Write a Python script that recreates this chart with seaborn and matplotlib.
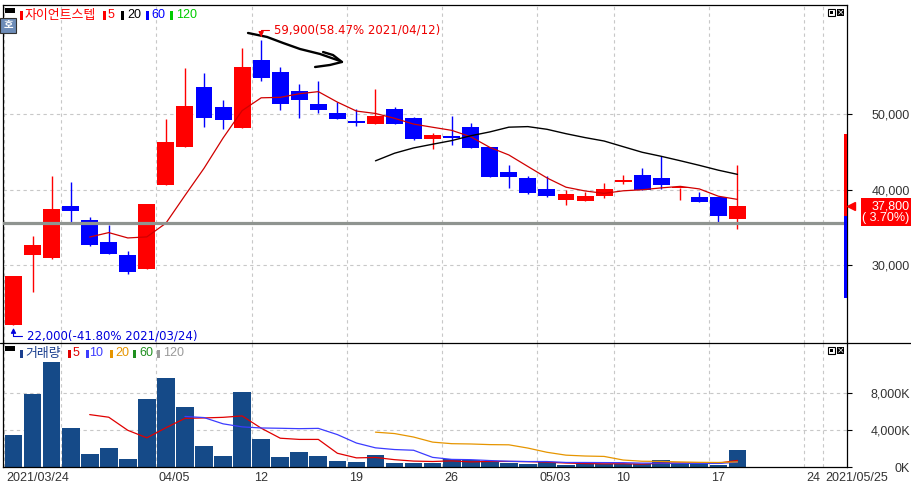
import numpy as np
import pandas as pd
import matplotlib
matplotlib.use("Agg")
import matplotlib.pyplot as plt
import matplotlib.transforms as mtransforms
from matplotlib.patches import Rectangle
from matplotlib.lines import Line2D
import seaborn as sns

# ---------------- data ----------------
dates = ['2021/03/24', '2021/03/25', '2021/03/26', '2021/03/29', '2021/03/30', '2021/03/31',
         '2021/04/01', '2021/04/02', '2021/04/05', '2021/04/06', '2021/04/07', '2021/04/08',
         '2021/04/09', '2021/04/12', '2021/04/13', '2021/04/14', '2021/04/15', '2021/04/16',
         '2021/04/19', '2021/04/20', '2021/04/21', '2021/04/22', '2021/04/23', '2021/04/26',
         '2021/04/27', '2021/04/28', '2021/04/29', '2021/04/30', '2021/05/03', '2021/05/04',
         '2021/05/06', '2021/05/07', '2021/05/10', '2021/05/11', '2021/05/12', '2021/05/13',
         '2021/05/14', '2021/05/17', '2021/05/18']
opens = [22000, 31350, 30950, 37800, 35950, 33050, 31300, 29500, 40650, 45700, 53600, 50950,
         48200, 57200, 55600, 53100, 51400, 50200, 48900, 48750, 50700, 49500, 46750, 46900,
         48300, 45650, 42350, 41550, 40100, 38650, 38500, 39200, 40950, 41900, 41550, 40150,
         39000, 39000, 36150]
highs = [28550, 33850, 41800, 41000, 36350, 35300, 31850, 38100, 49350, 56150, 55500, 51950,
         58850, 59900, 56300, 54000, 54400, 51650, 50650, 53350, 50950, 49600, 47550, 49800,
         48900, 45650, 43250, 41750, 41750, 39900, 39700, 40850, 41950, 42850, 44400, 40200,
         39700, 39000, 43250]
lows = [22000, 26450, 30750, 35750, 32500, 31450, 28800, 29500, 40650, 45700, 48350, 48100,
        48200, 54450, 50550, 49550, 50200, 49350, 48500, 48750, 48750, 46600, 45450, 45950,
        45550, 41700, 40250, 39450, 39000, 37950, 38500, 38900, 40700, 39900, 40100, 38600,
        38350, 35750, 34800]
closes = [28550, 32650, 37400, 37200, 32700, 31500, 29100, 38100, 46300, 51100, 49550, 49200,
          56300, 54800, 51400, 51950, 50600, 49350, 48850, 49800, 48750, 46750, 47250, 46800,
          45550, 41700, 41700, 39600, 39200, 39400, 39200, 40100, 41300, 39900, 40650, 40200,
          38400, 36450, 37800]
volumes_k = [3455, 7956, 11444, 4218, 1384, 2038, 839, 7379, 9668, 6507, 2256, 1166, 8142,
             3019, 1057, 1602, 1166, 621, 512, 1275, 403, 400, 400, 840, 730, 655, 400, 290,
             545, 260, 370, 290, 330, 330, 730, 475, 290, 260, 1820]

prev_close = 36450
upper_limit = 47350
lower_limit = 25550
ref_line_price = 35550

price_ticks = [30000, 40000, 50000]
volume_ticks = [0, 4000, 8000]
week_start_idx = [0, 3, 8, 13, 18, 23, 28, 32, 37, 42, 43]
xtick_idx = [0, 8, 13, 18, 23, 28, 32, 37, 42, 43]
xtick_labels = ['2021/03/24', '04/05', '12', '19', '26', '05/03', '10', '17', '24', '2021/05/25']

# hand-drawn pen stroke (slot index, price)
pen_x = [12.31, 13.31, 14.15, 15.04, 16.09, 17.14]
pen_y = [60800, 60270, 59470, 58670, 58010, 57080]
pen_head1_x = [16.25, 16.77, 17.24]
pen_head1_y = [58270, 57870, 56950]
pen_head2_x = [15.83, 16.61, 17.24]
pen_head2_y = [56280, 56550, 56950]

# ---------------- styling ----------------
sns.set_style("white")
plt.rcParams['font.family'] = ['Liberation Sans', 'Noto Sans CJK KR', 'DejaVu Sans']
plt.rcParams['axes.unicode_minus'] = False

RED = '#ff0000'
BLUE = '#0000ff'
NAVY = '#154a88'
GRID = '#c8c8c8'
KR = ['Noto Sans CJK KR', 'DejaVu Sans']

W, H = 911, 484
fig = plt.figure(figsize=(W / 100, H / 100), dpi=100)
fig.patch.set_facecolor('white')


def fx(px):
    return px / W


def fy(py):
    return 1 - py / H


ax = fig.add_axes([fx(3), fy(343), (847 - 3) / W, (343 - 5) / H])
ax2 = fig.add_axes([fx(3), fy(467), (847 - 3) / W, (467 - 343) / H])

XLIM = (-0.551, 43.75)
PRICE_YLIM = (19629, 64515)
VOL_YLIM = (0, 13470)

df = pd.DataFrame({'idx': np.arange(len(dates)), 'date': dates, 'open': opens, 'high': highs,
                   'low': lows, 'close': closes, 'vol': volumes_k})
df['ma5'] = df['close'].rolling(5).mean()
df['ma20'] = df['close'].rolling(20).mean()
df['vma5'] = df['vol'].rolling(5).mean()
df['vma10'] = df['vol'].rolling(10).mean()
df['vma20'] = df['vol'].rolling(20).mean()

for a in (ax, ax2):
    a.set_facecolor('white')
    a.set_xlim(*XLIM)
    for i in week_start_idx:
        a.axvline(i - 0.5, color=GRID, lw=0.8, ls=(0, (3, 3)), zorder=0)
    for s in a.spines.values():
        s.set_color('black')
        s.set_linewidth(0.9)
ax.spines['bottom'].set_visible(False)
ax2.spines['top'].set_visible(False)

ax.set_ylim(*PRICE_YLIM)
ax2.set_ylim(*VOL_YLIM)
for p in price_ticks:
    ax.axhline(p, color=GRID, lw=0.8, ls=(0, (3, 3)), zorder=0)
for v in volume_ticks[1:]:
    ax2.axhline(v, color=GRID, lw=0.8, ls=(0, (3, 3)), zorder=0)

# ---------------- candles ----------------
up = df['close'] >= df['open']
colors = np.where(up, RED, BLUE)
ax.vlines(df['idx'], df['low'], df['high'], colors=colors, lw=1.0, zorder=2)
body_bottom = np.minimum(df['open'], df['close'])
body_h = np.maximum((df['close'] - df['open']).abs(), 260)
ax.bar(df['idx'], body_h, bottom=body_bottom, width=0.89, color=colors, lw=0, zorder=3)

ax.axhline(ref_line_price, color='#8f9490', lw=2.3, zorder=6)

sns.lineplot(data=df, x='idx', y='ma5', ax=ax, color='#d00000', lw=0.9, zorder=5, legend=False)
sns.lineplot(data=df, x='idx', y='ma20', ax=ax, color='black', lw=1.0, zorder=5, legend=False)

# pen stroke
ax.plot(pen_x, pen_y, color='black', lw=1.7, solid_capstyle='round', zorder=8)
ax.plot(pen_head1_x, pen_head1_y, color='black', lw=1.7, solid_capstyle='round', zorder=8)
ax.plot(pen_head2_x, pen_head2_y, color='black', lw=1.7, solid_capstyle='round', zorder=8)

# high / low annotations
last = closes[-1]
hi_i = int(np.argmax(highs))
lo_i = int(np.argmin(lows))
hi, lo = highs[hi_i], lows[lo_i]
hi_txt = f"{hi:,}({(hi - last) / last * 100:.2f}% {dates[hi_i]})"
lo_txt = f"{lo:,}({(lo - last) / last * 100:.2f}% {dates[lo_i]})"
ax.annotate(hi_txt, xy=(hi_i, hi), xytext=(12.5, 10), textcoords='offset pixels',
            ha='left', va='center', color='#ee0000', fontsize=8.5, family=['DejaVu Sans'],
            zorder=9,
            arrowprops=dict(arrowstyle='-|>,head_length=0.35,head_width=0.18', color='#ee0000',
                            lw=0.8, connectionstyle='angle,angleA=0,angleB=90,rad=0',
                            relpos=(0, 0.5), shrinkA=1, shrinkB=2))
ax.annotate(lo_txt, xy=(lo_i, lo), xytext=(13.5, -10.6), textcoords='offset pixels',
            ha='left', va='center', color='#0000dd', fontsize=8.5, family=['DejaVu Sans'],
            zorder=9,
            arrowprops=dict(arrowstyle='-|>,head_length=0.35,head_width=0.18', color='#0000dd',
                            lw=0.8, connectionstyle='angle,angleA=0,angleB=90,rad=0',
                            relpos=(0, 0.5), shrinkA=1, shrinkB=2))

# right-side limit bar & current price marker
bt = mtransforms.blended_transform_factory(ax.transAxes, ax.transData)
ax.add_patch(Rectangle((0.99645, prev_close), 0.0036, upper_limit - prev_close,
                       transform=bt, color=RED, lw=0, clip_on=False, zorder=7))
ax.add_patch(Rectangle((0.99645, lower_limit), 0.0036, prev_close - lower_limit,
                       transform=bt, color=BLUE, lw=0, clip_on=False, zorder=7))
ax.plot([1.0047], [last], marker='<', ms=6, color=RED, transform=bt, clip_on=False, zorder=8)
ppx = (PRICE_YLIM[1] - PRICE_YLIM[0]) / 338.0
ax.add_patch(Rectangle((1.0166, last - 20 * ppx), 0.0596, 28 * ppx, transform=bt,
                       color=RED, lw=0, clip_on=False, zorder=7))
pct = (last - prev_close) / prev_close * 100
ax.text(1.074, last, f"{last:,}", transform=bt, ha='right', va='center', color='white',
        fontsize=9, zorder=8)
ax.text(1.074, last - 12 * ppx, f"({pct:5.2f}%)", transform=bt, ha='right', va='center',
        color='white', fontsize=9, zorder=8)

# price axis
ax.set_xticks([])
ax.set_xlabel('')
ax.set_ylabel('')
ax.yaxis.tick_right()
ax.set_yticks(price_ticks)
ax.set_yticklabels([f"{p:,}" for p in price_ticks])
ax.tick_params(axis='y', direction='out', length=3.6, width=0.8, pad=41.8, labelsize=9,
               labelcolor='#333333', color='black')
for t in ax.get_yticklabels():
    t.set_ha('right')

# ---------------- volume ----------------
ax2.bar(df['idx'], df['vol'], width=0.93, color=NAVY, lw=0, zorder=2)
sns.lineplot(data=df, x='idx', y='vma5', ax=ax2, color='#e00000', lw=0.9, zorder=4, legend=False)
sns.lineplot(data=df, x='idx', y='vma10', ax=ax2, color='#3c3cff', lw=0.9, zorder=4, legend=False)
sns.lineplot(data=df, x='idx', y='vma20', ax=ax2, color='#e69500', lw=0.9, zorder=4, legend=False)
ax2.set_xlabel('')
ax2.set_ylabel('')
ax2.yaxis.tick_right()
ax2.set_yticks(volume_ticks)
ax2.set_yticklabels([f"{v:,}K" for v in volume_ticks])
ax2.tick_params(axis='y', direction='out', length=3.6, width=0.8, pad=41.8, labelsize=9,
                labelcolor='#333333', color='black')
for t in ax2.get_yticklabels():
    t.set_ha('right')
ax2.set_xticks([i - 0.5 for i in xtick_idx])
ax2.set_xticklabels([])
ax2.tick_params(axis='x', direction='out', length=5, width=0.8, color='black')
xt = mtransforms.blended_transform_factory(ax2.transData, ax2.transAxes)
xt_off = mtransforms.offset_copy(xt, fig=fig, x=1.5, y=-3.3, units='points')
for i, lab in zip(xtick_idx, xtick_labels):
    ax2.text(i - 0.5, 0, lab, transform=xt_off, ha='left', va='top', fontsize=9,
             color='#333333', clip_on=False)

# separator line
fig.add_artist(Line2D([0, 1], [fy(343), fy(343)], transform=fig.transFigure, color='black',
                      lw=0.9))


# ---------------- legends & decorations ----------------
def frect(x0, y0, w, h, **kw):
    fig.add_artist(Rectangle((fx(x0), fy(y0 + h)), w / W, h / H, transform=fig.transFigure, **kw))


def ftext(x, y, s, **kw):
    fig.text(fx(x), fy(y), s, ha='left', va='center', **kw)


# price legend
frect(5, 8, 10, 5, color='black', lw=0)
legend_price = [(19.5, 25, '자이언트스텝', RED, KR),
                (103, 108, '5', RED, None),
                (120.5, 127, '20', 'black', None),
                (145.5, 151, '60', BLUE, None),
                (170, 176, '120', '#00cc00', None)]
for mx, tx, s, c, fam in legend_price:
    frect(mx, 11.5, 3, 8, color=c, lw=0)
    kw = dict(color=c, fontsize=9)
    if fam:
        kw['family'] = fam
        kw['fontsize'] = 9.3
    ftext(tx, 15.5, s, **kw)

# volume legend
frect(5, 346, 10, 4.5, color='black', lw=0)
legend_vol = [(19.5, 25, '거래량', '#1a3f8f', KR),
              (67.5, 73, '5', '#e00000', None),
              (86, 89, '10', '#3c3cff', None),
              (110, 115, '20', '#e69500', None),
              (133, 139, '60', '#1f8f1f', None),
              (157, 163, '120', '#9a9a9a', None)]
for mx, tx, s, c, fam in legend_vol:
    frect(mx, 349.5, 3, 8, color=c, lw=0)
    kw = dict(color=c, fontsize=9)
    if fam:
        kw['family'] = fam
        kw['fontsize'] = 9.3
    ftext(tx, 353.5, s, **kw)

# "호" box
frect(0, 18, 16, 15, facecolor='#6d8cb8', edgecolor='#333333', lw=0.8)
fig.text(fx(8), fy(25.5), '호', ha='center', va='center', color='white', fontsize=7.5,
         family=KR, fontweight='bold')

# panel icons
for top in (9, 347):
    frect(828, top, 7, 6.5, facecolor='white', edgecolor='black', lw=0.8)
    frect(830, top + 2, 3, 2.5, color='black', lw=0)
    frect(837.3, top, 7, 6.5, color='black', lw=0)
    fig.text(fx(840.8), fy(top + 3.4), '×', ha='center', va='center', color='white',
             fontsize=6.5, family=['DejaVu Sans'])

fig.savefig('out.png', dpi=100, facecolor='white')
